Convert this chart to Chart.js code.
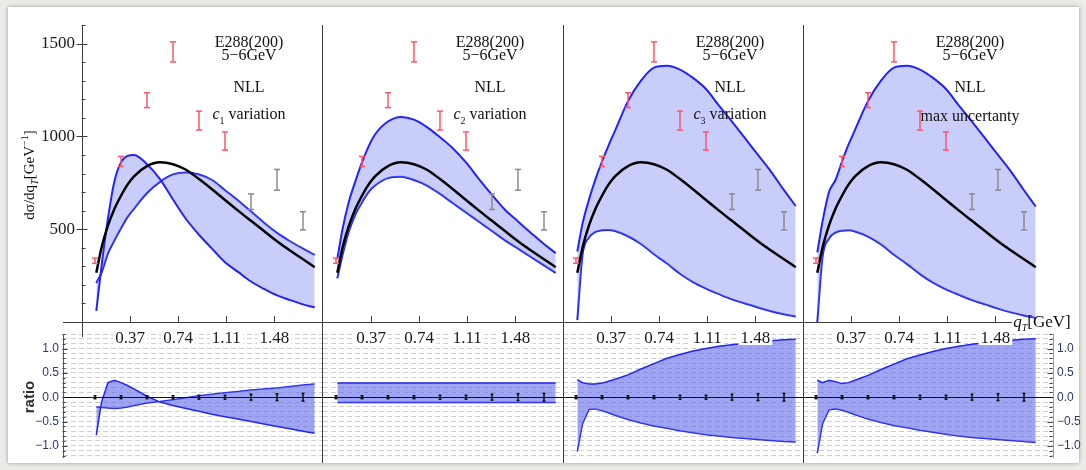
<!DOCTYPE html>
<html>
<head>
<meta charset="utf-8">
<script src="https://cdn.jsdelivr.net/npm/chart.js@4.4.0/dist/chart.umd.min.js"></script>
<style>
  body { margin: 0; width: 1086px; height: 470px; overflow: hidden; position: relative;
         background: #edebe8; font-family: "Liberation Serif", serif; }
  #sheet { position: absolute; left: 8px; top: 7px; width: 1071px; height: 456px;
           background: #fff; box-shadow: 0 0 4px rgba(0,0,0,0.35); }
  canvas { position: absolute; }
  .ln { position: absolute; background: #3c3c3c; }
  .note { position: absolute; transform: translate(-50%, -50%); font-size: 16px; color: #111;
          white-space: nowrap; line-height: 1; }
  .rot { position: absolute; transform: translate(-50%, -50%) rotate(-90deg); white-space: nowrap; line-height: 1; }
</style>
</head>
<body>
<div id="sheet"></div>

<canvas id="r0" width="322" height="124" style="left:0px;top:334px"></canvas>
<canvas id="r1" width="240" height="124" style="left:323px;top:334px"></canvas>
<canvas id="r2" width="240" height="124" style="left:563px;top:334px"></canvas>
<canvas id="r3" width="283" height="124" style="left:803px;top:334px"></canvas>

<canvas id="t0" width="322" height="345" style="left:0px;top:0px"></canvas>
<canvas id="t1" width="240" height="345" style="left:323px;top:0px"></canvas>
<canvas id="t2" width="240" height="345" style="left:563px;top:0px"></canvas>
<canvas id="t3" width="250" height="345" style="left:803px;top:0px"></canvas>

<!-- frame lines -->
<div class="ln" style="left:63px;top:322px;width:949px;height:1px"></div>
<div class="ln" style="left:82px;top:25px;width:1px;height:312px"></div>
<div class="ln" style="left:322px;top:25px;width:1px;height:438px"></div>
<div class="ln" style="left:563px;top:25px;width:1px;height:438px"></div>
<div class="ln" style="left:803px;top:25px;width:1px;height:438px"></div>
<div class="ln" style="left:63px;top:334px;width:1px;height:124px;background:#555"></div>
<div class="ln" style="left:1053px;top:334px;width:1px;height:124px;background:#999"></div>

<!-- labels -->
<div class="rot" style="left:30px;top:175px;font-size:15px;color:#111">dσ/dq<sub style="font-size:10px"><i>T</i></sub>[GeV<sup style="font-size:10px">−1</sup>]</div>
<div class="rot" style="left:28px;top:397px;font-size:15px;font-weight:bold;font-family:'Liberation Sans',sans-serif;color:#2a2a36">ratio</div>
<div class="note" style="left:1042px;top:323px;font-size:17px"><i>q</i><sub style="font-size:10px"><i>T</i></sub>[GeV]</div>

<div id="notes"></div>

<script>
// grid of qT values (GeV) on which the curves are read
const qGrid = [0.11, 0.15, 0.2, 0.25, 0.3, 0.35, 0.4, 0.5, 0.6, 0.7, 0.8, 0.9, 1.0, 1.1, 1.2, 1.3, 1.4, 1.5, 1.6, 1.7, 1.79];

// central NLL curve (same in every panel)
const central = [265, 400, 520, 610, 680, 740, 785, 840, 860, 850, 820, 770, 715, 657, 600, 545, 490, 435, 385, 338, 295];

// band edges, top panels
const c1Upper = [60, 300, 560, 760, 860, 895, 900, 850, 770, 660, 555, 470, 395, 322, 270, 218, 178, 143, 118, 95, 78];
const c1Lower = [210, 265, 370, 440, 505, 565, 610, 695, 755, 795, 805, 795, 765, 710, 655, 595, 535, 480, 435, 395, 362];
const c2Upper = [340, 500, 650, 760, 860, 945, 1010, 1080, 1105, 1090, 1050, 995, 935, 860, 770, 685, 605, 542, 480, 420, 371];
const c2Lower = [235, 360, 490, 580, 645, 700, 735, 775, 782, 765, 735, 690, 640, 590, 540, 490, 440, 395, 350, 305, 265];
const c3Upper = [380, 530, 660, 770, 864, 950, 1030, 1190, 1300, 1370, 1380, 1360, 1315, 1255, 1165, 1080, 990, 900, 810, 710, 625];
const c3Lower = [10, 360, 455, 485, 494, 496, 490, 462, 420, 365, 315, 260, 215, 180, 150, 122, 100, 78, 58, 42, 30];
const maxUpper = [375, 540, 700, 765, 864, 955, 1035, 1190, 1300, 1370, 1380, 1360, 1315, 1255, 1165, 1080, 990, 900, 810, 710, 622];
const maxLower = [0, 350, 450, 482, 492, 494, 488, 460, 418, 362, 312, 258, 212, 176, 146, 118, 95, 72, 52, 35, 22];

// ratio band edges, bottom panels
const r1A = [-0.78, -0.1, 0.3, 0.35, 0.3, 0.24, 0.17, 0.02, -0.1, -0.17, -0.23, -0.29, -0.35, -0.4, -0.45, -0.5, -0.55, -0.6, -0.65, -0.7, -0.74];
const r1B = [-0.2, -0.21, -0.22, -0.23, -0.22, -0.2, -0.17, -0.12, -0.09, -0.05, -0.01, 0.03, 0.06, 0.09, 0.12, 0.15, 0.17, 0.19, 0.22, 0.25, 0.27];
const r2U = [0.29, 0.29, 0.29, 0.29, 0.29, 0.29, 0.29, 0.29, 0.29, 0.29, 0.29, 0.29, 0.29, 0.29, 0.29, 0.29, 0.29, 0.29, 0.29, 0.29, 0.29];
const r2L = [-0.11, -0.11, -0.11, -0.11, -0.11, -0.11, -0.11, -0.11, -0.11, -0.11, -0.11, -0.11, -0.11, -0.11, -0.11, -0.11, -0.11, -0.11, -0.11, -0.11, -0.11];
const r3U = [0.36, 0.3, 0.27, 0.27, 0.29, 0.33, 0.37, 0.46, 0.58, 0.69, 0.8, 0.88, 0.95, 1.0, 1.05, 1.08, 1.11, 1.14, 1.16, 1.18, 1.19];
const r3L = [-1.12, -0.55, -0.25, -0.24, -0.28, -0.32, -0.37, -0.46, -0.53, -0.59, -0.64, -0.69, -0.73, -0.77, -0.8, -0.83, -0.85, -0.87, -0.89, -0.91, -0.92];
const r4U = [0.35, 0.3, 0.35, 0.32, 0.28, 0.3, 0.35, 0.45, 0.57, 0.68, 0.79, 0.87, 0.94, 1.0, 1.05, 1.09, 1.12, 1.15, 1.17, 1.19, 1.2];
const r4L = [-1.15, -0.55, -0.26, -0.24, -0.27, -0.31, -0.36, -0.45, -0.52, -0.58, -0.63, -0.68, -0.72, -0.76, -0.8, -0.83, -0.85, -0.87, -0.89, -0.91, -0.93];

// E288 data points
const dataQ = [0.1, 0.3, 0.5, 0.7, 0.9, 1.1, 1.3, 1.5, 1.7];
const dataVal = [330, 865, 1195, 1455, 1085, 975, 648, 766, 545];
const dataErr = [14, 27, 40, 54, 51, 49, 42, 56, 49];
const ratioVal = [0, 0, 0, 0, 0, 0, 0, 0, 0];
const ratioErr = [0.03, 0.03, 0.03, 0.03, 0.04, 0.04, 0.06, 0.07, 0.08];

// ticks
const xTickVals = [0.37, 0.74, 1.11, 1.48];
const yTickVals = [500, 1000, 1500];
const ratioTickVals = [-1, -0.5, 0, 0.5, 1];

const panelTitles = ['<i>c</i><sub style="font-size:10px">1</sub> variation', '<i>c</i><sub style="font-size:10px">2</sub> variation',
                     '<i>c</i><sub style="font-size:10px">3</sub> variation', 'max uncertanty'];

const PX_PER_GEV = 130;
const BLUE = 'rgb(35,35,250)';
const RED = 'rgb(255,85,110)';
const GREY = 'rgb(140,140,140)';

const pts = (qs, vs) => qs.map((q, k) => ({ x: q, y: vs[k] }));
function errSegments(qs, vs, es) {
  const out = [];
  qs.forEach((q, k) => out.push({ x: q, y: vs[k] - es[k] }, { x: q, y: vs[k] + es[k] }, { x: q, y: null }));
  return out;
}
function errCaps(qs, vs, es) {
  const out = [];
  qs.forEach((q, k) => out.push({ x: q, y: vs[k] - es[k] }, { x: q, y: vs[k] + es[k] }));
  return out;
}
function errSets(qs, vs, es, color, cap, width) {
  return [
    { data: errSegments(qs, vs, es), borderColor: color, borderWidth: width, pointRadius: 0, spanGaps: false, order: 0 },
    { data: errCaps(qs, vs, es), showLine: false, pointStyle: 'line', pointRadius: cap,
      pointBorderColor: color, pointBorderWidth: width, order: 0 },
  ];
}

// tick marks and zero line, drawn from the chart scales
const frameTicks = {
  id: 'frameTicks',
  afterDatasetsDraw(chart, args, o) {
    const { ctx, chartArea: a, scales: { x, y } } = chart;
    ctx.save();
    ctx.strokeStyle = '#3c3c3c';
    ctx.lineWidth = 1;
    ctx.beginPath();
    (o.xTicks || []).forEach(v => {
      const px = Math.round(x.getPixelForValue(v)) + 0.5;
      ctx.moveTo(px, a.bottom); ctx.lineTo(px, a.bottom - 6);
    });
    const edge = o.side === 'right' ? a.right - 0.5 : a.left - 0.5;
    const dir = o.side === 'right' ? -1 : 1;
    (o.yMinor || []).forEach(v => {
      const py = Math.round(y.getPixelForValue(v)) + 0.5;
      ctx.moveTo(edge, py); ctx.lineTo(edge + dir * o.minorLen, py);
    });
    (o.yMajor || []).forEach(v => {
      const py = Math.round(y.getPixelForValue(v)) + 0.5;
      ctx.moveTo(edge - dir * o.outLen, py); ctx.lineTo(edge + dir * o.majorLen, py);
    });
    ctx.stroke();
    if (o.zero) {
      const py = Math.round(y.getPixelForValue(0)) + 0.5;
      ctx.strokeStyle = '#111';
      ctx.beginPath(); ctx.moveTo(a.left, py); ctx.lineTo(a.right, py); ctx.stroke();
    }
    ctx.restore();
  }
};

const common = {
  responsive: false, animation: false, events: [],
  plugins: { legend: { display: false }, tooltip: { enabled: false } },
};

const topMinor = [];
for (let v = 100; v <= 1600; v += 100) if (v % 500) topMinor.push(v);
const ratioGrid = [];
for (let k = -12; k <= 13; k++) ratioGrid.push(k / 10);

function topChart(i, upper, lower, width) {
  const hasY = i === 0;
  new Chart(document.getElementById('t' + i), {
    type: 'line',
    data: {
      datasets: [
        { data: pts(qGrid, upper), borderColor: BLUE, borderWidth: 2, pointRadius: 0, fill: '+1',
          backgroundColor: 'rgba(120,130,240,0.40)', cubicInterpolationMode: 'monotone', order: 2 },
        { data: pts(qGrid, lower), borderColor: BLUE, borderWidth: 2, pointRadius: 0, fill: false,
          cubicInterpolationMode: 'monotone', order: 2 },
        { data: pts(qGrid, central), borderColor: '#000', borderWidth: 2.5, pointRadius: 0, fill: false,
          cubicInterpolationMode: 'monotone', order: 1 },
        ...errSets(dataQ.slice(0, 6), dataVal.slice(0, 6), dataErr.slice(0, 6), RED, 3, 1.5),
        ...errSets(dataQ.slice(6), dataVal.slice(6), dataErr.slice(6), GREY, 3, 1.5),
      ]
    },
    options: {
      ...common,
      layout: { padding: { top: 25, left: 0, right: 0, bottom: 0 }, autoPadding: false },
      plugins: { ...common.plugins,
        frameTicks: hasY ? { xTicks: xTickVals, yMinor: topMinor, yMajor: yTickVals, minorLen: 4, majorLen: 6, outLen: 5 }
                         : { xTicks: xTickVals } },
      scales: {
        x: {
          type: 'linear', min: 0, max: width / PX_PER_GEV, position: 'bottom',
          grid: { display: false, drawTicks: false }, border: { display: false },
          afterBuildTicks: s => { s.ticks = xTickVals.map(v => ({ value: v })); },
          afterFit: s => { s.height = 23; s.paddingLeft = 0; s.paddingRight = 0; },
          ticks: { autoSkip: false, maxRotation: 0, padding: 6, color: '#1a1a1a',
                   font: { family: 'Liberation Serif', size: 17 },
                   showLabelBackdrop: true, backdropColor: '#fff', backdropPadding: { x: 2, y: 0 },
                   callback: v => v.toFixed(2) }
        },
        y: {
          type: 'linear', min: 0, max: 1600, display: hasY, position: 'left',
          grid: { display: false, drawTicks: false }, border: { display: false },
          afterBuildTicks: s => { s.ticks = yTickVals.map(v => ({ value: v })); },
          afterFit: s => { s.width = hasY ? 82 : 0; s.paddingTop = 0; s.paddingBottom = 0; },
          ticks: { padding: 7, color: '#1a1a1a', font: { family: 'Liberation Serif', size: 17 },
                   callback: v => String(v) }
        }
      }
    },
    plugins: [frameTicks]
  });
}

function ratioChart(i, upper, lower, xMin, xMax, side, axisW) {
  new Chart(document.getElementById('r' + i), {
    type: 'line',
    data: {
      datasets: [
        { data: pts(qGrid, upper), borderColor: BLUE, borderWidth: 1.5, pointRadius: 0, fill: '+1',
          backgroundColor: 'rgba(90,100,235,0.58)', order: 2 },
        { data: pts(qGrid, lower), borderColor: BLUE, borderWidth: 1.5, pointRadius: 0, fill: false, order: 2 },
        ...errSets(dataQ, ratioVal, ratioErr, '#111', 1.5, 1.5),
      ]
    },
    options: {
      ...common,
      layout: { padding: 0, autoPadding: false },
      plugins: { ...common.plugins,
        frameTicks: side ? { yMinor: ratioGrid, yMajor: ratioTickVals, minorLen: 3, majorLen: 5, outLen: 0, side: side, zero: true }
                         : { zero: true } },
      scales: {
        x: { type: 'linear', min: xMin, max: xMax, display: false },
        y: {
          type: 'linear', min: -1.25, max: 1.3, position: side || 'left',
          grid: { display: true, drawTicks: false, color: '#cfcfcf', lineWidth: 1 },
          border: { display: false, dash: [5, 3] },
          afterBuildTicks: s => { s.ticks = ratioGrid.map(v => ({ value: v })); },
          afterFit: s => { s.width = axisW; s.paddingTop = 0; s.paddingBottom = 0; },
          ticks: { display: !!side, autoSkip: false, padding: 4, color: '#2e3a66',
                   font: { family: 'Liberation Sans', size: 12 },
                   callback: v => {
                     const r = Math.round(v * 10) / 10;
                     return ratioTickVals.includes(r) ? (r < 0 ? '−' + (-r).toFixed(1) : r.toFixed(1)) : '';
                   } }
        }
      }
    },
    plugins: [frameTicks]
  });
}

topChart(0, c1Upper, c1Lower, 240);
topChart(1, c2Upper, c2Lower, 240);
topChart(2, c3Upper, c3Lower, 240);
topChart(3, maxUpper, maxLower, 250);

ratioChart(0, r1A, r1B, -19 / PX_PER_GEV, 240 / PX_PER_GEV, 'left', 63);
ratioChart(1, r2U, r2L, 0, 240 / PX_PER_GEV, null, 0);
ratioChart(2, r3U, r3L, 0, 240 / PX_PER_GEV, null, 0);
ratioChart(3, r4U, r4L, 0, 250 / PX_PER_GEV, 'right', 33);

// panel annotations
const panelLeft = [82, 323, 563, 803];
const notes = document.getElementById('notes');
panelLeft.forEach((L, i) => {
  const cx = L + 167;
  [['E288(200)', 42], ['5−6GeV', 55], ['NLL', 87], [panelTitles[i], 116]].forEach(([t, y]) => {
    const d = document.createElement('div');
    d.className = 'note';
    d.style.left = cx + 'px';
    d.style.top = y + 'px';
    d.innerHTML = t;
    notes.appendChild(d);
  });
});
</script>
</body>
</html>
